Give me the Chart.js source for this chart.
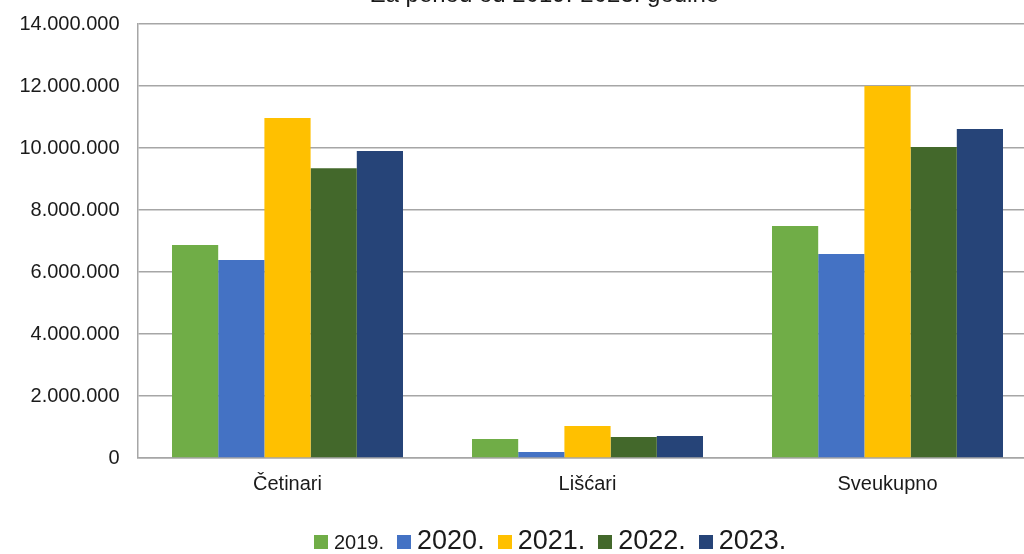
<!DOCTYPE html>
<html>
<head>
<meta charset="utf-8">
<script src="https://cdn.jsdelivr.net/npm/chart.js@4"></script>
<style>
  html, body { margin: 0; padding: 0; background: #fff; }
  #wrap { position: relative; width: 1024px; height: 554px; overflow: hidden; font-family: "Liberation Sans", Arial, sans-serif; }
  #box { position: absolute; left: 0; top: 0; width: 1045px; height: 554px; }
  #title { position: absolute; left: 545px; top: -18px; transform: translateX(-50%); white-space: nowrap;
           font-size: 24px; line-height: 24px; color: #1a1a1a; }
  #legend { position: absolute; left: 314px; top: 527px; display: flex; align-items: baseline; color: #1a1a1a; }
  #legend .item { display: flex; align-items: baseline; margin-right: 13px; }
  #legend .sq { width: 14px; height: 14px; margin-right: 6px; }
  #legend .txt { line-height: 1; }
</style>
</head>
<body>
<div id="wrap">
  <div id="box"><canvas id="myChart"></canvas></div>
  <div id="title">Za period od 2019.-2023. godine</div>
  <div id="legend"></div>
</div>
<script>
// podaci ocitani sa slike
const kategorije = ['Četinari', 'Lišćari', 'Sveukupno'];
const godine = ['2019.', '2020.', '2021.', '2022.', '2023.'];
const boje = ['#70AD47', '#4472C4', '#FFC000', '#43682B', '#264478'];
const v2019 = [6870000, 610000, 7480000];
const v2020 = [6390000, 190000, 6580000];
const v2021 = [10970000, 1030000, 12000000];
const v2022 = [9350000, 680000, 10030000];
const v2023 = [9900000, 710000, 10610000];
const yTicks = [0, 2000000, 4000000, 6000000, 8000000, 10000000, 12000000, 14000000];
const legendSizes = [20, 27, 27, 27, 27];

const serije = [v2019, v2020, v2021, v2022, v2023];

const fmt = v => v.toLocaleString('de-DE');

let ctx = document.getElementById('myChart').getContext('2d');

let graf = new Chart(ctx, {
    type: 'bar',
    data: {
        labels: kategorije,
        datasets: serije.map((s, i) => ({
            label: godine[i],
            data: s,
            backgroundColor: boje[i],
            borderWidth: 0,
            categoryPercentage: 0.77,
            barPercentage: 1.0
        }))
    },
    options: {
        responsive: true,
        maintainAspectRatio: false,
        animation: false,
        layout: { padding: { top: 24, right: 7.5, bottom: 44, left: 0 } },
        plugins: {
            legend: { display: false },
            title: { display: false },
            tooltip: { enabled: false }
        },
        scales: {
            x: {
                grid: { display: false, drawTicks: false },
                border: { display: true, color: '#a6a6a6', width: 1.5 },
                ticks: { color: '#1a1a1a', padding: 14, font: { family: 'Liberation Sans', size: 20 } }
            },
            y: {
                min: 0,
                max: 14000000,
                afterBuildTicks: scale => { scale.ticks = yTicks.map(v => ({ value: v })); },
                afterFit: scale => {
                    scale.width = 137.5;
                    scale.paddingTop = 12;
                },
                grid: { color: '#a6a6a6', lineWidth: 1.5, drawTicks: false },
                border: { display: true, color: '#a6a6a6', width: 1.5 },
                ticks: {
                    color: '#1a1a1a',
                    padding: 18,
                    font: { family: 'Liberation Sans', size: 20 },
                    callback: v => fmt(v)
                }
            }
        }
    }
});

// legenda (razlicite velicine slova kao na originalu)
const leg = document.getElementById('legend');
godine.forEach((g, i) => {
    const it = document.createElement('div');
    it.className = 'item';
    const sq = document.createElement('div');
    sq.className = 'sq';
    sq.style.background = boje[i];
    const t = document.createElement('span');
    t.className = 'txt';
    t.style.fontSize = legendSizes[i] + 'px';
    t.textContent = g;
    it.appendChild(sq);
    it.appendChild(t);
    leg.appendChild(it);
});
</script>
</body>
</html>
